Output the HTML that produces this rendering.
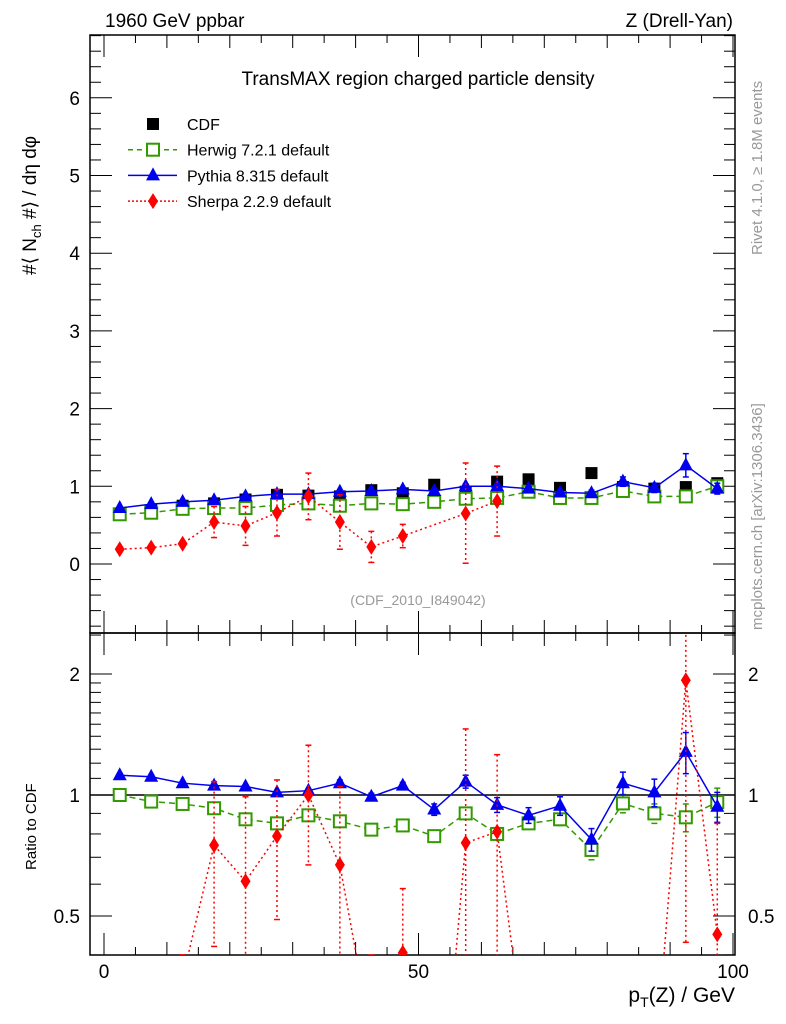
<!DOCTYPE html>
<html><head><meta charset="utf-8"><style>
html,body{margin:0;background:#fff;overflow:hidden;width:786px;height:1024px}
svg{display:block;font-family:"Liberation Sans",sans-serif}
</style></head><body>
<svg id="c" width="786" height="1024" xmlns="http://www.w3.org/2000/svg">
<rect width="786" height="1024" fill="#fff"/>
<g id="g"></g>
<text x="105" y="27" font-size="19">1960 GeV ppbar</text>
<text x="733" y="27" font-size="19" text-anchor="end">Z (Drell-Yan)</text>
<text x="418" y="85" font-size="19" text-anchor="middle">TransMAX region charged particle density</text>
<text x="418" y="605" font-size="14" fill="#999" text-anchor="middle">(CDF_2010_I849042)</text>
<text transform="translate(762,255) rotate(-90)" font-size="15" fill="#999">Rivet 4.1.0, ≥ 1.8M events</text>
<text transform="translate(762,630) rotate(-90)" font-size="15" fill="#999">mcplots.cern.ch [arXiv:1306.3436]</text>
<text transform="translate(36,275) rotate(-90)" font-size="19">#⟨ N<tspan font-size="13" dy="5">ch</tspan><tspan dy="-5"> #⟩ / dη dφ</tspan></text>
<text transform="translate(36,870) rotate(-90)" font-size="15">Ratio to CDF</text>
<text x="735" y="1002" font-size="21" text-anchor="end">p<tspan font-size="14" dy="5">T</tspan><tspan dy="-5">(Z) / GeV</tspan></text>
</svg>
<script>
const bins=[2.5,7.5,12.5,17.5,22.5,27.5,32.5,37.5,42.5,47.5,52.5,57.5,62.5,67.5,72.5,77.5,82.5,87.5,92.5,97.5];
const cdf=[0.64,0.69,0.75,0.78,0.83,0.89,0.88,0.87,0.95,0.91,1.02,0.93,1.06,1.09,0.98,1.17,0.99,0.97,0.99,1.04];
const herwig=[0.64,0.66,0.71,0.72,0.72,0.76,0.78,0.75,0.78,0.77,0.80,0.84,0.85,0.93,0.85,0.85,0.94,0.87,0.87,1.0];
const pythia=[0.72,0.77,0.80,0.82,0.87,0.90,0.90,0.93,0.94,0.96,0.94,1.0,1.0,0.97,0.92,0.91,1.06,0.98,1.27,0.97];
const pythiaErr=[0.02,0.02,0.02,0.02,0.02,0.02,0.02,0.02,0.02,0.02,0.03,0.03,0.03,0.03,0.03,0.04,0.06,0.06,0.15,0.07];
const sherpa=[0.19,0.21,0.26,0.54,0.49,0.66,0.87,0.54,0.22,0.36,null,0.65,0.81,null,null,null,null,null,null,null];
const sherpaErr=[0.03,0.03,0.03,0.2,0.25,0.3,0.3,0.35,0.2,0.15,0,0.65,0.45,0,0,0,0,0,0,0];
const herwigRatio=[1.0,0.963,0.95,0.927,0.87,0.85,0.89,0.86,0.82,0.84,0.79,0.90,0.80,0.85,0.87,0.73,0.953,0.90,0.88,0.96];
const herwigRatioErr=[0.01,0.01,0.01,0.01,0.01,0.01,0.01,0.01,0.01,0.01,0.01,0.02,0.02,0.02,0.03,0.04,0.05,0.05,0.07,0.08];
const pythiaRatio=[1.12,1.11,1.07,1.055,1.05,1.015,1.025,1.07,0.99,1.055,0.92,1.08,0.945,0.89,0.94,0.775,1.07,1.015,1.28,0.935];
const pythiaRatioErr=[0.01,0.01,0.01,0.01,0.01,0.01,0.01,0.02,0.02,0.02,0.03,0.04,0.04,0.04,0.05,0.05,0.07,0.08,0.15,0.08];
const sherpaRatio=[0.3,0.3,0.35,0.75,0.61,0.79,1.0,0.67,0.25,0.405,0.1,0.76,0.81,0.2,0.2,0.2,0.2,0.2,1.93,0.45];
const sherpaRatioErr=[0.05,0.05,0.05,0.33,0.38,0.3,0.33,0.38,0.15,0.18,0.1,0.7,0.45,0.1,0.1,0.1,0.1,0.1,1.5,0.4];
const yTicks=[0,1,2,3,4,5,6];
const rTicks=[0.5,1,2];
const xTicks=[0,50,100];

const NS="http://www.w3.org/2000/svg",G=document.getElementById('g');
const L=90,R=735,T1=35,B1=633,B2=955;
const X=v=>104+v*6.29;
const Y=v=>564-77.7*v;
const RY=r=>795-121*Math.log2(r);
function mk(t,a,p){const e=document.createElementNS(NS,t);for(const k in a)e.setAttribute(k,a[k]);(p||G).appendChild(e);return e;}
function clipDef(id,y0,y1){const d=mk('clipPath',{id:id});mk('rect',{x:L,y:y0,width:R-L,height:y1-y0},d);}
clipDef('cu',T1,B1);clipDef('cl',B1,B2);
const f1=mk('rect',{x:L,y:T1,width:R-L,height:B1-T1,fill:'none',stroke:'#000','stroke-width':1.5});

const f2=mk('rect',{x:L,y:B1,width:R-L,height:B2-B1,fill:'none',stroke:'#000','stroke-width':1.5});

for(let v=-0.8;v<=6.81;v+=0.2){const vv=Math.round(v*10)/10;const maj=Math.abs(vv-Math.round(vv))<1e-6;const len=maj?22:11;const y=Y(vv);
mk('line',{x1:L,x2:L+len,y1:y,y2:y,stroke:'#000'});mk('line',{x1:R,x2:R-len,y1:y,y2:y,stroke:'#000'});}
yTicks.forEach(v=>{const t=mk('text',{x:80,y:Y(v)+7,'font-size':19,'text-anchor':'end'});t.textContent=v;
});
[0.4,0.5,0.6,0.7,0.8,0.9,1,1.1,1.2,1.3,1.4,1.5,1.6,1.7,1.8,1.9,2,2.5].forEach(r=>{const y=RY(r);if(y<B1||y>B2)return;const maj=rTicks.includes(r);const len=maj?22:11;
mk('line',{x1:L,x2:L+len,y1:y,y2:y,stroke:'#000'});mk('line',{x1:R,x2:R-len,y1:y,y2:y,stroke:'#000'});});
rTicks.forEach(r=>{const lab=String(r);const t=mk('text',{x:80,y:RY(r)+7,'font-size':19,'text-anchor':'end'});t.textContent=lab;

const t2=mk('text',{x:748,y:RY(r)+7,'font-size':19});t2.textContent=lab;
});
mk('line',{x1:L,x2:R,y1:RY(1),y2:RY(1),stroke:'#000','stroke-width':1.5});
for(let v=0;v<=100;v+=5){const x=X(v);const len=v%50==0?22:(v%10==0?13:8);
mk('line',{x1:x,x2:x,y1:B2,y2:B2-len,stroke:'#000'});mk('line',{x1:x,x2:x,y1:B1,y2:B1-len,stroke:'#000'});
mk('line',{x1:x,x2:x,y1:B1,y2:B1+len,stroke:'#000'});mk('line',{x1:x,x2:x,y1:T1,y2:T1+len,stroke:'#000'});}
xTicks.forEach(v=>{const t=mk('text',{x:X(v),y:978,'font-size':19,'text-anchor':'middle'});t.textContent=v;
});
function marker(p,x,y,type,col){
 if(type=='sq')return mk('rect',{x:x-6,y:y-6,width:12,height:12,fill:'#000'},p);
 if(type=='osq')return mk('rect',{x:x-6,y:y-6,width:12,height:12,fill:'#fff',stroke:col,'stroke-width':2},p);
 if(type=='tri')return mk('polygon',{points:`${x},${y-8} ${x-7},${y+5} ${x+7},${y+5}`,fill:col},p);
 if(type=='dia')return mk('polygon',{points:`${x},${y-8} ${x-5},${y} ${x},${y+8} ${x+5},${y}`,fill:col},p);
}
function series(name,vals,errs,yf,clip,col,dash,type,line){
 const g=mk('g',{'clip-path':`url(#${clip})`});
 
 
 const pts=[];vals.forEach((v,i)=>{if(v==null)return;pts.push([X(bins[i]),yf(v)]);});
 if(line)mk('polyline',{points:pts.map(p=>p.join(',')).join(' '),fill:'none',stroke:col,'stroke-width':1.5,'stroke-dasharray':dash},g);
 vals.forEach((v,i)=>{if(v==null)return;const x=X(bins[i]);const e=errs?errs[i]:0;
  if(e>0){const y1=yf(v+e),y2=yf(Math.max(v-e,0.01));mk('line',{x1:x,x2:x,y1:y1,y2:y2,stroke:col,'stroke-width':1.5,'stroke-dasharray':dash},g);
   mk('line',{x1:x-3,x2:x+3,y1:y1,y2:y1,stroke:col,'stroke-width':1.5},g);mk('line',{x1:x-3,x2:x+3,y1:y2,y2:y2,stroke:col,'stroke-width':1.5},g);}
  const m=marker(g,x,yf(v),type,col);
  
  });
}
series('cdf-data',cdf,null,Y,'cu','#000','','sq',false);
series('herwig-series',herwig,null,Y,'cu','#339900','6,4','osq',true);
series('pythia-series',pythia,pythiaErr,Y,'cu','#0000ee','','tri',true);
series('sherpa-series',sherpa,sherpaErr,Y,'cu','#ff0000','2,3','dia',true);
series('herwig-ratio',herwigRatio,herwigRatioErr,RY,'cl','#339900','6,4','osq',true);
series('pythia-ratio',pythiaRatio,pythiaRatioErr,RY,'cl','#0000ee','','tri',true);
series('sherpa-ratio',sherpaRatio,sherpaRatioErr,RY,'cl','#ff0000','2,3','dia',true);
const leg=[['CDF','#000','','sq',false],['Herwig 7.2.1 default','#339900','5,4','osq',true],['Pythia 8.315 default','#0000ee','','tri',true],['Sherpa 2.2.9 default','#ff0000','2,2','dia',true]];
leg.forEach((l,i)=>{const y=124+i*25.7;const g=mk('g',{});
 
 
 if(l[4])mk('line',{x1:128,x2:177,y1:y,y2:y,stroke:l[1],'stroke-width':1.5,'stroke-dasharray':l[2]},g);
 marker(g,153,y,l[3],l[1]);
 const t=mk('text',{x:187,y:y+6,'font-size':16},g);t.textContent=l[0];});
</script>
</body></html>
